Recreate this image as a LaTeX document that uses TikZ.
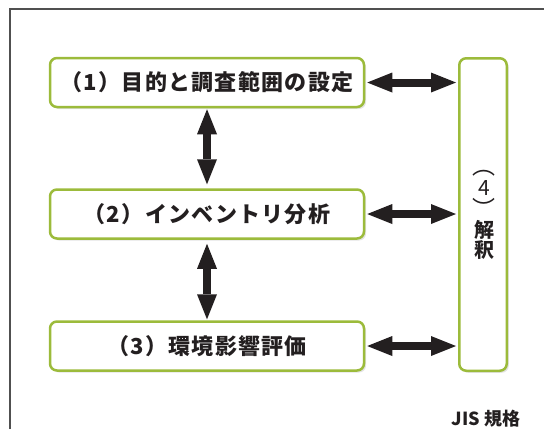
\documentclass[tikz,border=0pt]{standalone}
\usepackage{fontspec}
\newfontfamily\cjk[LetterSpace=6]{Noto Sans CJK JP}
\newfontfamily\cjkn{Noto Sans CJK JP}
\usetikzlibrary{arrows.meta,shadows}
\definecolor{lgreen}{RGB}{156,187,59}
\definecolor{txt}{RGB}{35,31,32}
\definecolor{framec}{RGB}{80,80,80}
\tikzset{
  stage/.style={draw=lgreen, line width=2.5pt, rounded corners=7pt, fill=white,
    drop shadow={opacity=0.22, shadow xshift=2pt, shadow yshift=-2pt},
    inner sep=0pt, text=txt},
  wide/.style={minimum width=314pt, minimum height=49pt,
    font=\cjk\bfseries\fontsize{22}{24}\selectfont},
  fat/.style={draw=txt, line width=8pt,
    {Triangle[width=20pt,length=25pt,line width=0pt]}-{Triangle[width=20pt,length=25pt,line width=0pt]},
    shorten <=2pt, shorten >=2pt},
  vlab/.style={text=txt, inner sep=0pt, font=\cjkn\fontsize{21}{22}\selectfont},
}
\newcommand\vcell[1]{\hbox to 24pt{\hss\smash{#1}\hss}}
\begin{document}
\begin{tikzpicture}[x=1pt,y=-1pt]
\useasboundingbox (0,0) rectangle (544,429);
\draw[framec, line width=1.5pt] (10,429) -- (10,9) -- (544,9);

\node[stage,wide] (b1) at (207,82.5) {（1）目的と調査範囲の設定};
\node[stage,wide] (b2) at (207,214) {（2）インベントリ分析};
\node[stage,wide] (b3) at (207,346) {（3）環境影響評価};
\node[stage, minimum width=47.5pt, minimum height=312.5pt] (b4) at (483,214.5) {};

\node[vlab, anchor=base] (lab4) at (484,174.4) {\vtop{\offinterlineskip
  \vcell{\fontsize{23}{24}\selectfont ︵}\kern21.3pt
  \vcell{4}\kern21.3pt
  \vcell{\fontsize{23}{24}\selectfont ︶}\kern20.6pt
  \vcell{\bfseries\fontsize{20}{22}\selectfont 解}\kern19.5pt
  \vcell{\bfseries\fontsize{20}{22}\selectfont 釈}}};

\draw[fat] (b1.east) -- (b1.east -| b4.west);
\draw[fat] (b2.east) -- (b2.east -| b4.west);
\draw[fat] (b3.east) -- (b3.east -| b4.west);
\draw[fat, shorten <=1pt, shorten >=4pt] (b1.south) -- (b2.north);
\draw[fat, shorten <=4pt, shorten >=1pt] (b2.south) -- (b3.north);

\node[text=txt, inner sep=0pt, font=\cjkn\bfseries\fontsize{18}{20}\selectfont] (jis) at (486,419) {JIS 規格};
\end{tikzpicture}
\end{document}
